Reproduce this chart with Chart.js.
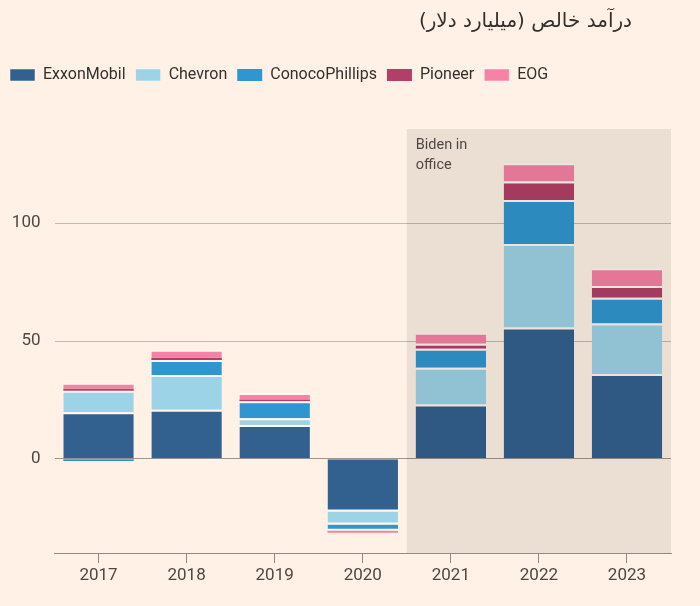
<!DOCTYPE html>
<html>
<head>
<meta charset="utf-8">
<script src="https://cdn.jsdelivr.net/npm/chart.js@4.4.1/dist/chart.umd.min.js"></script>
<style>
  html, body { margin: 0; padding: 0; background: #fff1e5; }
  #wrap { width: 700px; height: 606px; position: relative; }
</style>
</head>
<body>
<div id="wrap"><canvas id="incomeChart" width="700" height="606"></canvas></div>
<script>
// net income, billion dollars
const years = ['2017', '2018', '2019', '2020', '2021', '2022', '2023'];
const exxon = [19.7, 20.8, 14.3, -22.4, 23.0, 55.7, 36.0];
const chevron = [9.2, 14.8, 2.9, -5.5, 15.6, 35.5, 21.4];
const conoco = [-0.9, 6.3, 7.2, -2.7, 8.1, 18.7, 11.0];
const pioneer = [0.8, 1.0, 0.8, -0.2, 2.1, 7.8, 4.9];
const eog = [2.6, 3.4, 2.7, -0.6, 4.7, 7.8, 7.6];
const yTicks = [0, 50, 100];
const titleText = 'درآمد خالص (میلیارد دلار)';
const shadeLabel = ['Biden in', 'office'];

const font = 'Roboto, "Open Sans", sans-serif';

// thin gap on the outer edge of each segment, none for tiny segments
const edge = (c) => {
  const v = c.raw;
  if (v === undefined || Math.abs(v) < 1.5) return 0;
  return v >= 0 ? { top: 2, bottom: 0, left: 0, right: 0 } : { top: 0, bottom: 2, left: 0, right: 0 };
};

const mkSet = (label, data, color) => ({
  label, data,
  backgroundColor: color,
  borderColor: '#fff8f2',
  borderWidth: edge,
  borderSkipped: false,
  barPercentage: 0.8,
  categoryPercentage: 1
});

// legend box height fixed so the plot starts where it should
const legendSpace = {
  id: 'legendSpace',
  beforeInit(chart) {
    const fit = chart.legend.fit;
    chart.legend.fit = function () {
      fit.bind(chart.legend)();
      this.height = 72;
    };
  }
};

// shaded "Biden in office" band, drawn over the bars, plus title
const extras = {
  id: 'extras',
  afterDatasetsDraw(chart) {
    const { ctx, chartArea, scales } = chart;
    const x0 = (scales.x.getPixelForValue(3) + scales.x.getPixelForValue(4)) / 2;
    ctx.save();
    ctx.fillStyle = 'rgba(0,0,0,0.08)';
    ctx.fillRect(x0, chartArea.top, chartArea.right - x0, chartArea.bottom - chartArea.top);
    ctx.fillStyle = '#4d4845';
    ctx.font = '14.5px ' + font;
    ctx.textBaseline = 'middle';
    ctx.textAlign = 'left';
    ctx.fillText(shadeLabel[0], x0 + 9, chartArea.top + 16);
    ctx.fillText(shadeLabel[1], x0 + 9, chartArea.top + 36);
    ctx.restore();
  },
  afterDraw(chart) {
    const { ctx } = chart;
    ctx.save();
    ctx.direction = 'rtl';
    ctx.textAlign = 'right';
    ctx.textBaseline = 'middle';
    ctx.fillStyle = '#33302e';
    ctx.font = '20px "DejaVu Sans", sans-serif';
    ctx.fillText(titleText, 632, 22);
    ctx.restore();
  }
};

new Chart(document.getElementById('incomeChart').getContext('2d'), {
  type: 'bar',
  data: {
    labels: years,
    datasets: [
      mkSet('ExxonMobil', exxon, '#33618f'),
      mkSet('Chevron', chevron, '#9dd3e6'),
      mkSet('ConocoPhillips', conoco, '#3096cf'),
      mkSet('Pioneer', pioneer, '#b23f67'),
      mkSet('EOG', eog, '#f682a5')
    ]
  },
  options: {
    responsive: false,
    animation: false,
    layout: { padding: { top: 57, left: 0, right: 29, bottom: 0 } },
    plugins: {
      title: { display: false },
      tooltip: { enabled: false },
      legend: {
        position: 'top',
        align: 'start',
        labels: {
          boxWidth: 25,
          boxHeight: 12,
          padding: 10,
          color: '#33302e',
          font: { family: font, size: 16 }
        }
      }
    },
    scales: {
      x: {
        stacked: true,
        grid: {
          offset: false,
          drawOnChartArea: false,
          drawTicks: true,
          tickLength: 10,
          color: '#8f8a86'
        },
        border: { display: true, color: '#8f8a86', width: 1 },
        ticks: { color: '#4d4845', font: { family: font, size: 17 }, padding: 3 },
        afterFit(scale) { scale.height = 53; }
      },
      y: {
        stacked: true,
        min: -40,
        max: 140,
        afterBuildTicks(scale) { scale.ticks = yTicks.map(v => ({ value: v })); },
        grid: {
          drawTicks: false,
          color: (c) => c.tick && c.tick.value === 0 ? '#9c958f' : '#c2bab2'
        },
        border: { display: false },
        ticks: { color: '#4d4845', font: { family: font, size: 17 }, padding: 14 },
        afterFit(scale) { scale.width = 54.5; }
      }
    }
  },
  plugins: [legendSpace, extras]
});
</script>
</body>
</html>
